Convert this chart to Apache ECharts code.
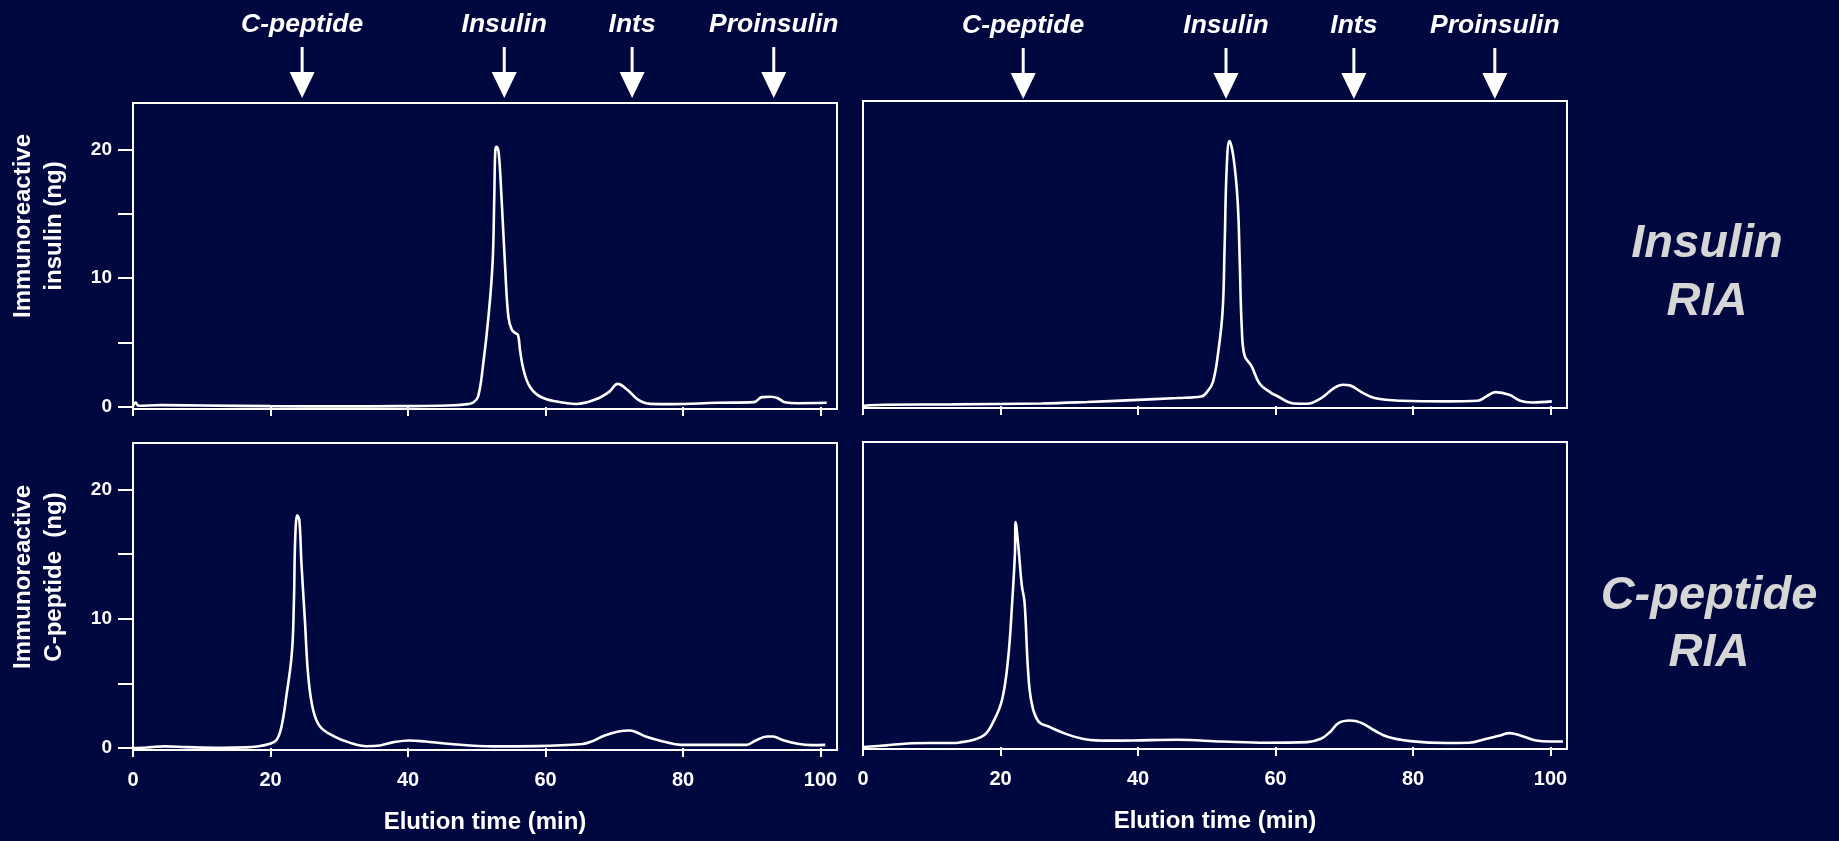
<!DOCTYPE html>
<html>
<head>
<meta charset="utf-8">
<script src="https://cdn.jsdelivr.net/npm/echarts@6/dist/echarts.min.js"></script>
<style>
html,body{margin:0;padding:0;background:#01083f;}
#chart{width:1839px;height:841px;}
</style>
</head>
<body>
<div id="chart"></div>
<script>
// ---- tick values ----
const xTicks = [0, 20, 40, 60, 80, 100];
const yTicks = [0, 5, 10, 15, 20];
const yLabelValues = [0, 10, 20];

// ---- peak markers (elution positions, min) ----
const markerNames = ['C-peptide', 'Insulin', 'Ints', 'Proinsulin'];
const markerLeft = [24.6, 54.0, 72.6, 93.2];
const markerRight = [23.3, 52.8, 71.4, 91.9];

// ---- Insulin RIA, left run ----
const insLeftT = [0, 0.4, 0.8, 4, 10, 20, 30, 39, 45.8, 48.7, 49.5, 50.2, 50.95, 51.7, 52.3, 52.55, 52.7, 52.9, 53.2, 53.6, 54.1, 54.6, 55.1, 55.6, 56.0, 56.3, 56.8, 57.7, 59.2, 61.6, 64.5, 67.4, 69.3, 70.5, 71.9, 73.5, 75.2, 78.4, 85, 90.3, 91.5, 92.8, 93.8, 94.8, 96.7, 100.9];
const insLeftV = [0.05, 0.35, 0.1, 0.15, 0.12, 0.07, 0.05, 0.07, 0.12, 0.23, 0.35, 0.82, 3.4, 7.0, 11.15, 16.3, 19.9, 20.2, 19.7, 16.3, 11.15, 7.0, 6.0, 5.75, 5.6, 4.4, 2.9, 1.6, 0.82, 0.43, 0.24, 0.62, 1.2, 1.8, 1.34, 0.56, 0.25, 0.23, 0.33, 0.38, 0.77, 0.8, 0.69, 0.38, 0.3, 0.33];

// ---- Insulin RIA, right run ----
const insRightT = [0, 1, 3.3, 13, 26, 32.6, 39.2, 45.7, 49.2, 50.2, 50.9, 51.6, 52.3, 52.6, 52.9, 53.3, 53.9, 54.5, 54.8, 55.1, 55.5, 56.5, 57.7, 59.4, 60.1, 62.7, 64.6, 66.6, 68.5, 69.8, 70.8, 72.5, 74.4, 78.3, 84.9, 89.4, 90.7, 92, 94, 95.6, 97.3, 100.2];
const insRightV = [0, 0.06, 0.1, 0.13, 0.2, 0.31, 0.46, 0.62, 0.74, 1.2, 1.86, 3.9, 7.3, 12.4, 18.4, 20.5, 19.2, 15.8, 11.15, 6.0, 3.9, 3.1, 1.73, 1.0, 0.82, 0.2, 0.18, 0.6, 1.39, 1.65, 1.6, 1.08, 0.62, 0.41, 0.36, 0.41, 0.75, 1.08, 0.88, 0.41, 0.28, 0.36];

// ---- C-peptide RIA, left run ----
const cpLeftT = [0, 1.3, 2.6, 4.6, 7.8, 13, 16.3, 18.0, 19.9, 20.9, 21.6, 22.3, 23.1, 23.4, 23.6, 23.9, 24.2, 24.5, 25.0, 25.5, 26.2, 27.2, 29.1, 31.5, 34.0, 35.9, 37.9, 40.2, 42.5, 45.8, 52.3, 58.8, 65.4, 66.7, 68.6, 70.6, 72.2, 73.2, 74.8, 77.1, 79.7, 85, 89.2, 90.5, 92.2, 93.1, 94.4, 96.7, 98.7, 100.7];
const cpLeftV = [0, 0.02, 0.07, 0.13, 0.07, 0.02, 0.05, 0.12, 0.33, 0.64, 1.67, 4.0, 7.3, 11.2, 16.3, 18.0, 17.6, 14.3, 9.9, 5.5, 2.95, 1.67, 0.95, 0.42, 0.14, 0.2, 0.46, 0.59, 0.51, 0.33, 0.13, 0.15, 0.31, 0.51, 0.97, 1.28, 1.36, 1.23, 0.85, 0.51, 0.25, 0.25, 0.25, 0.56, 0.9, 0.9, 0.64, 0.33, 0.23, 0.25];

// ---- C-peptide RIA, right run ----
const cpRightT = [0, 3.3, 6.5, 9.8, 13.1, 14.1, 16.0, 17.7, 18.9, 20.2, 21.1, 21.7, 22.1, 22.2, 22.6, 23.1, 23.5, 24.0, 24.5, 25.5, 27.2, 29.6, 32.5, 35.4, 39.2, 45.7, 52.2, 58.7, 64.6, 66.6, 67.9, 69.2, 70.8, 72.5, 74.4, 76.4, 79.6, 84.9, 88.1, 90.7, 92.7, 94, 95.6, 97.9, 99.9, 101.8];
const cpRightV = [0, 0.13, 0.28, 0.31, 0.31, 0.36, 0.55, 0.95, 1.9, 3.6, 6.8, 11.2, 15.0, 17.4, 15.5, 12.5, 11.2, 6.0, 3.5, 2.0, 1.54, 1.0, 0.59, 0.5, 0.51, 0.56, 0.43, 0.33, 0.38, 0.64, 1.15, 1.87, 2.05, 1.87, 1.28, 0.77, 0.46, 0.31, 0.33, 0.64, 0.9, 1.08, 0.9, 0.51, 0.43, 0.43];

const FONT = '"Liberation Sans", Arial, Helvetica, sans-serif';
const WHITE = '#ffffff';

function pairs(t, v) { return t.map((x, i) => [x, v[i]]); }

const panels = [
  { left: 133, top: 103, height: 306, xLabels: false, yLabels: true },
  { left: 863, top: 101, height: 307, xLabels: false, yLabels: false },
  { left: 133, top: 443, height: 307, xLabels: true,  yLabels: true },
  { left: 863, top: 442, height: 307, xLabels: true,  yLabels: false }
];

const grid = panels.map(p => ({
  left: p.left, top: p.top, width: 704, height: p.height,
  show: true, borderColor: WHITE, borderWidth: 2, backgroundColor: 'transparent'
}));
grid.push({ left: 133, top: 38, width: 704, height: 60, show: false });
grid.push({ left: 863, top: 39, width: 704, height: 60, show: false });

const xAxis = panels.map((p, i) => ({
  type: 'value', gridIndex: i, min: 0, max: 102.4,
  axisLine: { show: false },
  splitLine: { show: false },
  axisTick: { show: true, customValues: xTicks, length: 9, inside: false, lineStyle: { color: WHITE, width: 2 } },
  axisLabel: { show: p.xLabels, customValues: xTicks, margin: 20, color: WHITE, fontFamily: FONT, fontWeight: 'bold', fontSize: 20 },
  name: p.xLabels ? 'Elution time (min)' : '',
  nameLocation: 'middle', nameGap: 60,
  nameTextStyle: { color: WHITE, fontFamily: FONT, fontWeight: 'bold', fontSize: 24 }
}));
xAxis.push({ type: 'value', gridIndex: 4, min: 0, max: 102.4, show: false });
xAxis.push({ type: 'value', gridIndex: 5, min: 0, max: 102.4, show: false });

const yAxis = panels.map((p, i) => ({
  type: 'value', gridIndex: i, min: -0.15, max: 23.6,
  axisLine: { show: false },
  splitLine: { show: false },
  axisTick: { show: p.yLabels, customValues: yTicks, length: 15, inside: false, lineStyle: { color: WHITE, width: 2 } },
  axisLabel: { show: p.yLabels, customValues: yLabelValues, margin: 21, color: WHITE, fontFamily: FONT, fontWeight: 'bold', fontSize: 19 }
}));
yAxis.push({ type: 'value', gridIndex: 4, min: 0, max: 1, show: false });
yAxis.push({ type: 'value', gridIndex: 5, min: 0, max: 1, show: false });

const curveData = [pairs(insLeftT, insLeftV), pairs(insRightT, insRightV), pairs(cpLeftT, cpLeftV), pairs(cpRightT, cpRightV)];

const series = curveData.map((d, i) => ({
  type: 'line', xAxisIndex: i, yAxisIndex: i, data: d,
  showSymbol: false, smooth: 0.4,
  lineStyle: { color: WHITE, width: 2.6, opacity: 1 }, silent: true
}));

const ARROW = 'path://M11,0 L14,0 L14,25 L25,25 L12.5,51 L0,25 L11,25 Z';
[markerLeft, markerRight].forEach((pos, k) => {
  series.push({
    type: 'scatter', xAxisIndex: 4 + k, yAxisIndex: 4 + k, silent: true,
    symbol: ARROW, symbolSize: [25, 51], symbolOffset: [0, '-50%'],
    itemStyle: { color: WHITE, opacity: 1 },
    data: pos.map((x, j) => ({ value: [x, 0], name: markerNames[j] })),
    label: {
      show: true, position: 'top', distance: 9, formatter: '{b}', opacity: 1,
      color: WHITE, fontFamily: FONT, fontWeight: 'bold', fontStyle: 'italic', fontSize: 26.5
    }
  });
});

const graphic = [
  { type: 'text', x: 39, y: 226, rotation: Math.PI / 2,
    style: { text: 'Immunoreactive\ninsulin (ng)', fill: WHITE, font: 'bold 24px ' + FONT, align: 'center', verticalAlign: 'middle', lineHeight: 31 } },
  { type: 'text', x: 39, y: 577, rotation: Math.PI / 2,
    style: { text: 'Immunoreactive\nC-peptide  (ng)', fill: WHITE, font: 'bold 24px ' + FONT, align: 'center', verticalAlign: 'middle', lineHeight: 31 } },
  { type: 'text', x: 1707, y: 273,
    style: { text: 'Insulin\nRIA', fill: '#d6d6d6', font: 'italic bold 47px ' + FONT, align: 'center', verticalAlign: 'middle', lineHeight: 58 } },
  { type: 'text', x: 1709, y: 625,
    style: { text: 'C-peptide\nRIA', fill: '#d6d6d6', font: 'italic bold 47px ' + FONT, align: 'center', verticalAlign: 'middle', lineHeight: 57 } }
];

const chart = echarts.init(document.getElementById('chart'), null, { renderer: 'canvas' });
chart.setOption({
  backgroundColor: '#01083f',
  animation: false,
  grid: grid,
  xAxis: xAxis,
  yAxis: yAxis,
  series: series,
  graphic: graphic
});
</script>
</body>
</html>
